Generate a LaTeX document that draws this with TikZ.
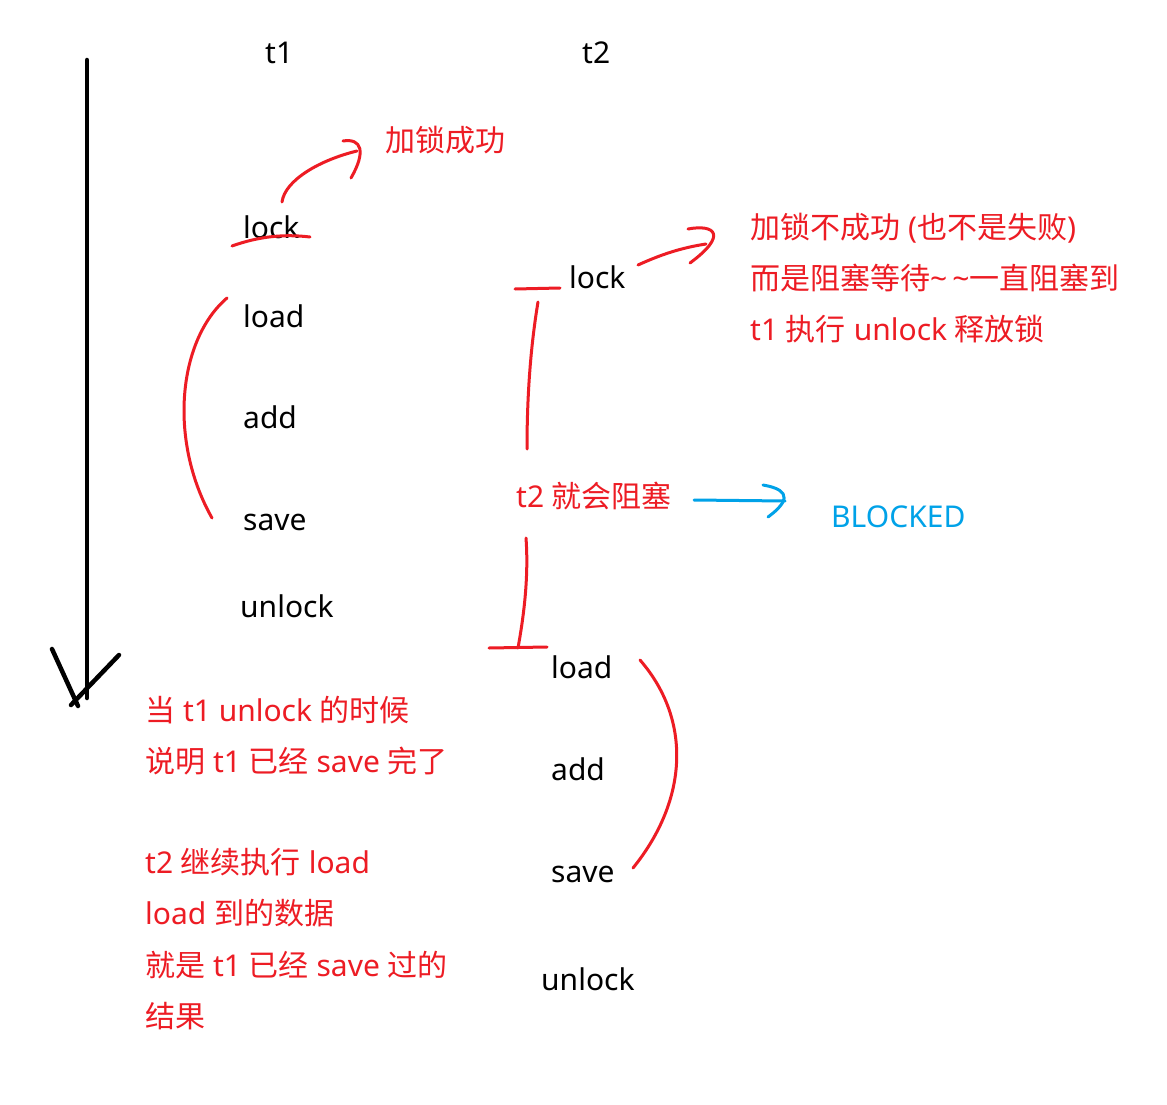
\documentclass[tikz,border=0pt]{standalone}
\usepackage{fontspec}
\setmainfont{Noto Sans}
\newfontfamily\cjk{Noto Sans CJK SC}
\definecolor{pred}{HTML}{ED1C24}
\definecolor{pblue}{HTML}{00A2E8}
\newcommand{\zh}[1]{{\cjk #1}}
\begin{document}
\begin{tikzpicture}[x=1pt,y=-1pt,
  txt/.style={anchor=base west, inner sep=0pt, font=\fontsize{30}{36}\selectfont},
  blk/.style={txt,text=black},
  rtxt/.style={txt,text=pred},
  btxt/.style={txt,text=pblue},
  ink/.style={line width=3pt, line cap=round, line join=round},
  rink/.style={ink,draw=pred},
  bink/.style={ink,draw=pblue},
  kink/.style={line width=4.5pt, line cap=round, draw=black}]
\useasboundingbox[fill=white] (0,0) rectangle (1167,1105);

% column headers
\node[blk] (t1) at (265,64) {t1};
\node[blk] (t2) at (582,64) {t2};

% t1 steps
\node[blk] (lockA) at (243,238) {lock};
\node[blk] (loadA) at (243,327) {load};
\node[blk] (addA) at (243,428) {add};
\node[blk] (saveA) at (243,530) {save};
\node[blk] (unlockA) at (240,617) {unlock};

% t2 steps
\node[blk] (lockB) at (569,288) {lock};
\node[blk] (loadB) at (551,678) {load};
\node[blk] (addB) at (551,780) {add};
\node[blk] (saveB) at (551,882) {save};
\node[blk] (unlockB) at (541,990) {unlock};

% red annotations
\node[rtxt] (ok) at (385,152) {\zh{加锁成功}};
\node[rtxt] (noA) at (750,238) {\zh{加锁不成功} (\zh{也不是失败})};
\node[rtxt] (noB) at (750,289) {\zh{而是阻塞等待}\char"007E\,\char"007E\zh{一直阻塞到}};
\node[rtxt] (noC) at (750,340) {t1 \zh{执行} unlock \zh{释放锁}};
\node[rtxt] (blk2) at (516,507) {t2 \zh{就会阻塞}};
\node[btxt] (blocked) at (831,527) {BLOCKED};

\node[rtxt] (nA) at (145,721) {\zh{当} t1 unlock \zh{的时候}};
\node[rtxt] (nB) at (145,772) {\zh{说明} t1 \zh{已经} save \zh{完了}};
\node[rtxt] (nC) at (145,873) {t2 \zh{继续执行} load};
\node[rtxt] (nD) at (145,924) {load \zh{到的数据}};
\node[rtxt] (nE) at (145,976) {\zh{就是} t1 \zh{已经} save \zh{过的}};
\node[rtxt] (nF) at (145,1027) {\zh{结果}};

% time axis
\draw[kink] (87,60) -- (87,698);
\draw[kink] (52,649) -- (78,706);
\draw[kink] (119,655) -- (71,705);

% t1 lock strokes
\draw[rink] (232,246) .. controls (260,236) and (285,234) .. (310,237);
\draw[rink] (282,202) .. controls (285,180) and (320,160) .. (357,151);
\draw[rink] (343,141) .. controls (362,138) and (366,152) .. (351,178);
% t1 brace
\draw[rink] (227,298) .. controls (178,340) and (168,440) .. (212,518);

% t2 lock strokes
\draw[rink] (515,289) -- (560,288);
\draw[rink] (638,265) .. controls (660,255) and (680,248) .. (706,244);
\draw[rink] (688,229) .. controls (715,224) and (728,235) .. (690,263);
\draw[rink] (538,302) .. controls (530,350) and (527,400) .. (527,449);
\draw[rink] (526,538) .. controls (529,580) and (523,620) .. (518,648);
\draw[rink] (489,648) -- (547,647);
% t2 brace
\draw[rink] (640,660) .. controls (692,720) and (688,800) .. (633,868);

% blue arrow
\draw[bink] (694,500) -- (785,501);
\draw[bink] (763,485) .. controls (780,488) and (798,495) .. (768,517);
\end{tikzpicture}
\end{document}
